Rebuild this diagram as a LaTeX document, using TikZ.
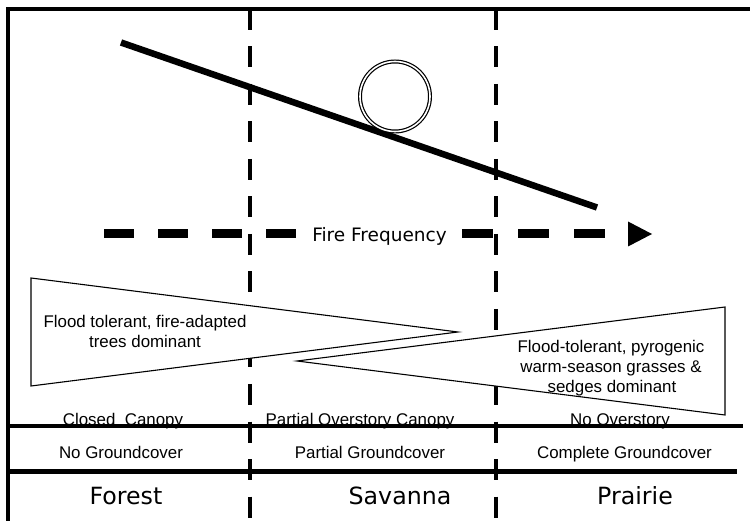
\documentclass[tikz,border=0pt]{standalone}
\usepackage{fontspec}
\newfontfamily\verdfont{DejaVu Sans}
\newfontfamily\arialfont{Liberation Sans}
\begin{document}
\begin{tikzpicture}[x=1pt,y=-1pt,
  frameline/.style={line width=3.2pt},
  vdash/.style={line width=4.5pt, dash pattern=on 21pt off 16.5pt},
  hrule/.style={line width=4.5pt},
  slopeline/.style={line width=6.5pt},
  ffdash/.style={line width=9pt},
  wedge/.style={draw, fill=white, line width=1.1pt, line join=miter},
  lbl/.style={font=\arialfont\fontsize{16.9}{19.5}\selectfont, anchor=base, inner sep=0pt},
  biglbl/.style={font=\verdfont\fontsize{23.7}{28}\selectfont, anchor=base, inner sep=0pt},
  fflbl/.style={font=\verdfont\fontsize{18.5}{22}\selectfont, anchor=base, inner sep=0pt},
  ball/.style={circle, draw, line width=1.2pt, double=white, double distance=1.6pt, minimum size=70pt, inner sep=0pt}
]
\useasboundingbox (0,0) rectangle (750,521);
% frame
\coordinate (tl) at (8,9);
\coordinate (tr) at (750,9);
\coordinate (bl) at (8,521);
\draw[frameline] (tr) -- (tl) -- (bl);
% vertical dashed dividers
\coordinate (v1t) at (250,9);
\coordinate (v1b) at (250,521);
\coordinate (v2t) at (496,9);
\coordinate (v2b) at (496,521);
\draw[vdash] (v1t) -- (v1b);
\draw[vdash] (v2t) -- (v2b);
% sloped line and ball
\coordinate (s1) at (121,42.5);
\coordinate (s2) at (597,207.5);
\draw[slopeline] (s1) -- (s2);
\node[ball] (rollball) at (395,96.5) {};
% fire frequency arrow
\node[fflbl] (ff) at (379.5,242) {Fire Frequency};
\coordinate (ffa) at (104,234);
\coordinate (ffb) at (298,234);
\coordinate (ffc) at (462,234);
\coordinate (ffd) at (608,234);
\coordinate (fftip) at (652,234);
\draw[ffdash, dash pattern=on 30pt off 24pt] (ffa) -- (ffb);
\draw[ffdash, dash pattern=on 31pt off 25pt] (ffc) -- (ffd);
\fill (628,221.5) -- (fftip) -- (628,246.5) -- cycle;
% wedges
\draw[wedge] (31,278) -- (31,386) -- (458,332) -- cycle;
\draw[wedge] (297,361) -- (725,307) -- (725,415) -- cycle;
\node[lbl] (tree1) at (145,328) {Flood tolerant, fire-adapted};
\node[lbl] (tree2) at (145,347.5) {trees dominant};
\node[lbl] (grass1) at (611,353) {Flood-tolerant, pyrogenic};
\node[lbl] (grass2) at (611,372.5) {warm-season grasses \&};
\node[lbl] (grass3) at (612,392) {sedges dominant};
% canopy row
\node[lbl] (can1) at (123,425) {Closed\ \ Canopy};
\node[lbl] (can2) at (360,425) {Partial Overstory Canopy};
\node[lbl] (can3) at (620,425) {No Overstory};
% groundcover row
\node[lbl] (gc1) at (121,458) {No Groundcover};
\node[lbl] (gc2) at (370,458) {Partial Groundcover};
\node[lbl] (gc3) at (624.5,458) {Complete Groundcover};
% type row
\node[biglbl] (forest) at (126,504) {Forest};
\node[biglbl] (savanna) at (400,504) {Savanna};
\node[biglbl] (prairie) at (635,504) {Prairie};
% horizontal rules
\coordinate (h1a) at (8,426);
\coordinate (h1b) at (743,426);
\coordinate (h2a) at (8,471.5);
\coordinate (h2b) at (737,471.5);
\draw[hrule, line width=4pt] (h1a) -- (h1b);
\draw[hrule, line width=5pt] (h2a) -- (h2b);
\end{tikzpicture}
\end{document}
